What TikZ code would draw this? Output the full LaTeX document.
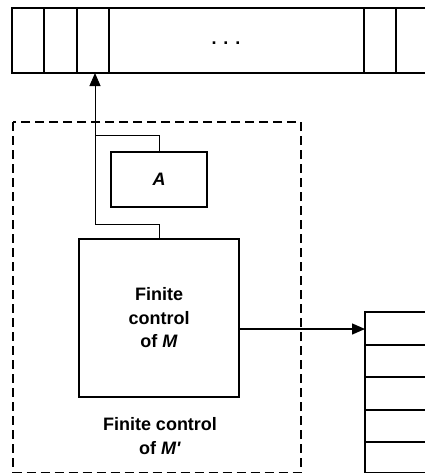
\documentclass[tikz,border=0pt]{standalone}
\usepackage{fontspec}
\setmainfont{Liberation Sans}
\usetikzlibrary{arrows.meta}

\tikzset{
    box/.style={draw, inner sep=0pt},
    label/.style={align=center, font=\bfseries\fontsize{18}{23.5}\selectfont},
    wire/.style={line width=1pt},
    tip/.style={-{Triangle[length=13pt,width=11pt]}}
}

\begin{document}
\begin{tikzpicture}[
    x=1pt,
    y=-1pt,
    line width=1.4pt
]
\useasboundingbox (0,0) rectangle (425,474);

\draw (425,8) -- (12,8) -- (12,73) -- (425,73);
\foreach \x in {44,77,109,364,396}
    \draw (\x,8) -- (\x,73);
\node[label, anchor=base] (dots) at (226,44) {.\hspace{7pt}.\hspace{7pt}.};
\coordinate (head) at (95,73);

\draw[line width=1.1pt, dash pattern=on 9pt off 5pt] (13,122) rectangle (301,472.5);

\node[box, label, minimum width=96pt, minimum height=55pt] (a) at (159,179.5) {\textit{A}};
\node[box, label, minimum width=160pt, minimum height=158pt] (fc) at (159,318)
    {Finite\\control\\of \textit{M}};
\node[label] (outer) at (160,436) {Finite control\\of \textit{M\textquotesingle}};

\draw[wire, tip] (fc.north) -- ++(0,-14) -| (head);
\draw[wire] (a.north) |- (head |- 0,135);

\draw (425,312) -- (365,312) -- (365,472.5) -- (425,472.5);
\foreach \y in {345,377,410,442}
    \draw (365,\y) -- (425,\y);
\coordinate (stk) at (365,329);
\draw[tip] (fc.east |- stk) -- (stk);

\end{tikzpicture}
\end{document}
